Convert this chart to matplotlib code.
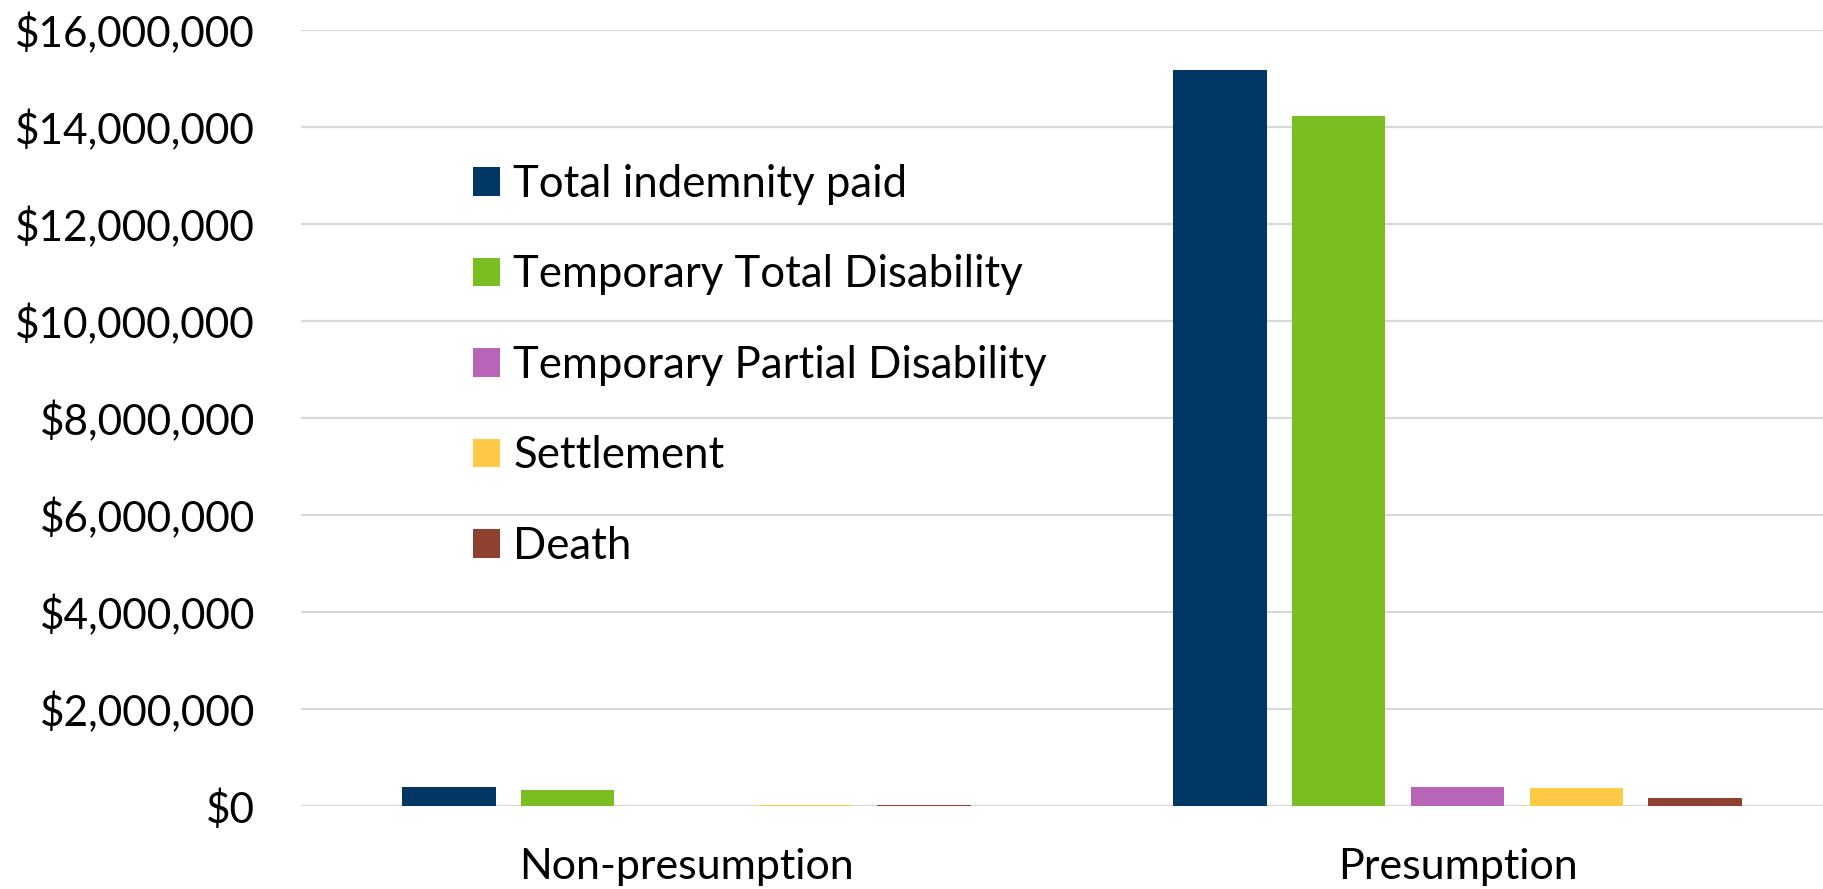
import numpy as np
import matplotlib.pyplot as plt
from matplotlib.ticker import FuncFormatter

plt.rcParams['font.family'] = ['Lato', 'DejaVu Sans']

# ---- data ----
categories = ['Non-presumption', 'Presumption']
series_names = ['Total indemnity paid', 'Temporary Total Disability',
                'Temporary Partial Disability', 'Settlement', 'Death']
total_indemnity = [392000, 15180000]
temp_total = [330000, 14220000]
temp_partial = [0, 392000]
settlement = [18000, 372000]
death = [16000, 158000]
colors = ['#003764', '#7ABF22', '#B864B9', '#FFC845', '#8E412E']

values = [total_indemnity, temp_total, temp_partial, settlement, death]

# ---- plot ----
fig = plt.figure(figsize=(18.23, 8.89), dpi=100)
ax = fig.add_axes([301 / 1823, 1 - 806 / 889, 1 - 301 / 1823, (806 - 30) / 889])

x = np.arange(len(categories))
step = 0.154
width = 0.121
for k, (name, vals, c) in enumerate(zip(series_names, values, colors)):
    ax.bar(x + (k - 2) * step, vals, width, color=c, label=name, zorder=3)

ax.set_ylim(0, 16000000)
ax.set_xlim(-0.5, 1.474)
ax.set_yticks(np.arange(0, 16000001, 2000000))
ax.yaxis.set_major_formatter(FuncFormatter(lambda v, p: f'${v:,.0f}'))
ax.set_xticks(x)
ax.set_xticklabels(categories)
ax.tick_params(axis='both', length=0, colors='black')
ax.tick_params(axis='y', pad=33, labelsize=30.5)
ax.tick_params(axis='x', pad=30, labelsize=31)
ax.grid(axis='y', color='#D9D9D9', linewidth=1.6, zorder=0)
for s in ax.spines.values():
    s.set_visible(False)

ax.legend(loc='upper left', bbox_to_anchor=(473 / 1823, 1 - 164 / 889),
          bbox_transform=fig.transFigure, frameon=False, fontsize=31.5,
          handlelength=0.62, handleheight=0.62, handletextpad=0.3,
          labelspacing=1.13, borderpad=0, borderaxespad=0)

fig.savefig('out.png', dpi=100)
